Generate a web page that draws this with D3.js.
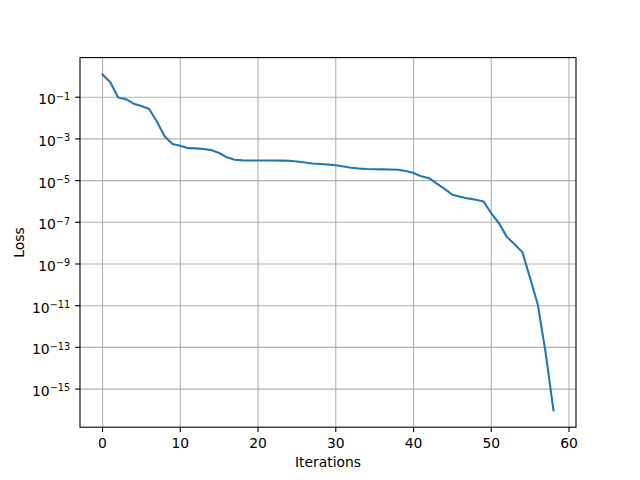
<!DOCTYPE html>
<html>
<head>
<meta charset="utf-8">
<script src="https://cdn.jsdelivr.net/npm/d3@7"></script>
<style>
  html, body { margin: 0; padding: 0; background: #fff; }
  svg { display: block; }
  text { font-family: "DejaVu Sans", sans-serif; fill: #000; }
</style>
</head>
<body>
<svg id="chart" width="640" height="480"></svg>
<script>
// Data
const iterations = d3.range(0, 59);
const loss = [
  1.24, 0.52, 0.097, 0.08, 0.049, 0.038, 0.027, 0.0067, 0.0013, 5.7e-4,
  4.7e-4, 3.6e-4, 3.5e-4, 3.3e-4, 2.9e-4, 2.1e-4, 1.3e-4, 1.0e-4, 9.3e-5, 9.2e-5,
  9.2e-5, 9.2e-5, 9.2e-5, 9.1e-5, 8.9e-5, 8.2e-5, 7.4e-5, 6.6e-5, 6.3e-5, 5.9e-5,
  5.4e-5, 4.7e-5, 4.1e-5, 3.8e-5, 3.6e-5, 3.5e-5, 3.45e-5, 3.4e-5, 3.3e-5, 2.9e-5,
  2.3e-5, 1.6e-5, 1.3e-5, 7.2e-6, 4.0e-6, 2.1e-6, 1.7e-6, 1.4e-6, 1.2e-6, 1.0e-6,
  2.7e-7, 9e-8, 2.0e-8, 8.9e-9, 3.7e-9, 2.1e-10, 1.07e-11, 5.4e-14, 9.5e-17
];
const xTickValues = [0, 10, 20, 30, 40, 50, 60];
const yTickExponents = [-1, -3, -5, -7, -9, -11, -13, -15];
const xLabel = "Iterations";
const yLabel = "Loss";

(function () {
const pL = 80, pR = 576, pT = 57.6, pB = 427.2;
const svg = d3.select("#chart");

// x scale with matplotlib-style 5% margins
const xMin = d3.min(iterations), xMax = d3.max(iterations);
const xPad = (xMax - xMin) * 0.05;
const x = d3.scaleLinear().domain([xMin - xPad, xMax + xPad]).range([pL, pR]);

// log y scale with 5% margins in log space
const lMin = Math.log10(d3.min(loss)), lMax = Math.log10(d3.max(loss));
const lPad = (lMax - lMin) * 0.05;
const y = d3.scaleLog().domain([Math.pow(10, lMin - lPad), Math.pow(10, lMax + lPad)]).range([pB, pT]);

const gridColor = "#b0b0b0";
const minus = "\u2212";

// Grid
const grid = svg.append("g");
grid.selectAll("line.vx").data(xTickValues).enter().append("line")
  .attr("x1", d => x(d)).attr("x2", d => x(d))
  .attr("y1", pT).attr("y2", pB)
  .attr("stroke", gridColor).attr("stroke-width", 1.1);
grid.selectAll("line.hy").data(yTickExponents).enter().append("line")
  .attr("x1", pL).attr("x2", pR)
  .attr("y1", d => y(Math.pow(10, d))).attr("y2", d => y(Math.pow(10, d)))
  .attr("stroke", gridColor).attr("stroke-width", 1.1);

// Line
const line = d3.line().x((d, i) => x(iterations[i])).y(d => y(d));
svg.append("path").datum(loss)
  .attr("d", line)
  .attr("fill", "none")
  .attr("stroke", "#1f77b4")
  .attr("stroke-width", 2.08)
  .attr("stroke-linejoin", "round")
  .attr("stroke-linecap", "square");

// Axes frame
svg.append("rect")
  .attr("x", pL).attr("y", pT)
  .attr("width", pR - pL).attr("height", pB - pT)
  .attr("fill", "none").attr("stroke", "#000").attr("stroke-width", 1.1);

// X axis ticks & labels
const xAxis = svg.append("g");
xAxis.selectAll("line").data(xTickValues).enter().append("line")
  .attr("x1", d => x(d)).attr("x2", d => x(d))
  .attr("y1", pB).attr("y2", pB + 4.86)
  .attr("stroke", "#000").attr("stroke-width", 1.1);
xAxis.selectAll("text").data(xTickValues).enter().append("text")
  .attr("x", d => x(d)).attr("y", pB + 20.3)
  .attr("text-anchor", "middle")
  .style("font-size", "13.9px")
  .text(d => d3.format("d")(d));

// Y axis ticks & labels
const yAxis = svg.append("g");
yAxis.selectAll("line").data(yTickExponents).enter().append("line")
  .attr("x1", pL - 4.86).attr("x2", pL)
  .attr("y1", d => y(Math.pow(10, d))).attr("y2", d => y(Math.pow(10, d)))
  .attr("stroke", "#000").attr("stroke-width", 1.1);
const yt = yAxis.selectAll("text").data(yTickExponents).enter().append("text")
  .attr("x", pL - 9.9).attr("y", d => y(Math.pow(10, d)) + 7)
  .attr("text-anchor", "end")
  .style("font-size", "13.9px");
yt.append("tspan").text("10");
yt.append("tspan")
  .attr("dy", -4.6)
  .style("font-size", "9.7px")
  .text(d => (d < 0 ? minus : "") + Math.abs(d));

// Axis labels
svg.append("text")
  .attr("x", (pL + pR) / 2).attr("y", 467)
  .attr("text-anchor", "middle")
  .style("font-size", "13.9px")
  .text(xLabel);
svg.append("text")
  .attr("transform", `translate(23.5, ${(pT + pB) / 2}) rotate(-90)`)
  .attr("text-anchor", "middle")
  .style("font-size", "13.9px")
  .text(yLabel);
})();
</script>
</body>
</html>
